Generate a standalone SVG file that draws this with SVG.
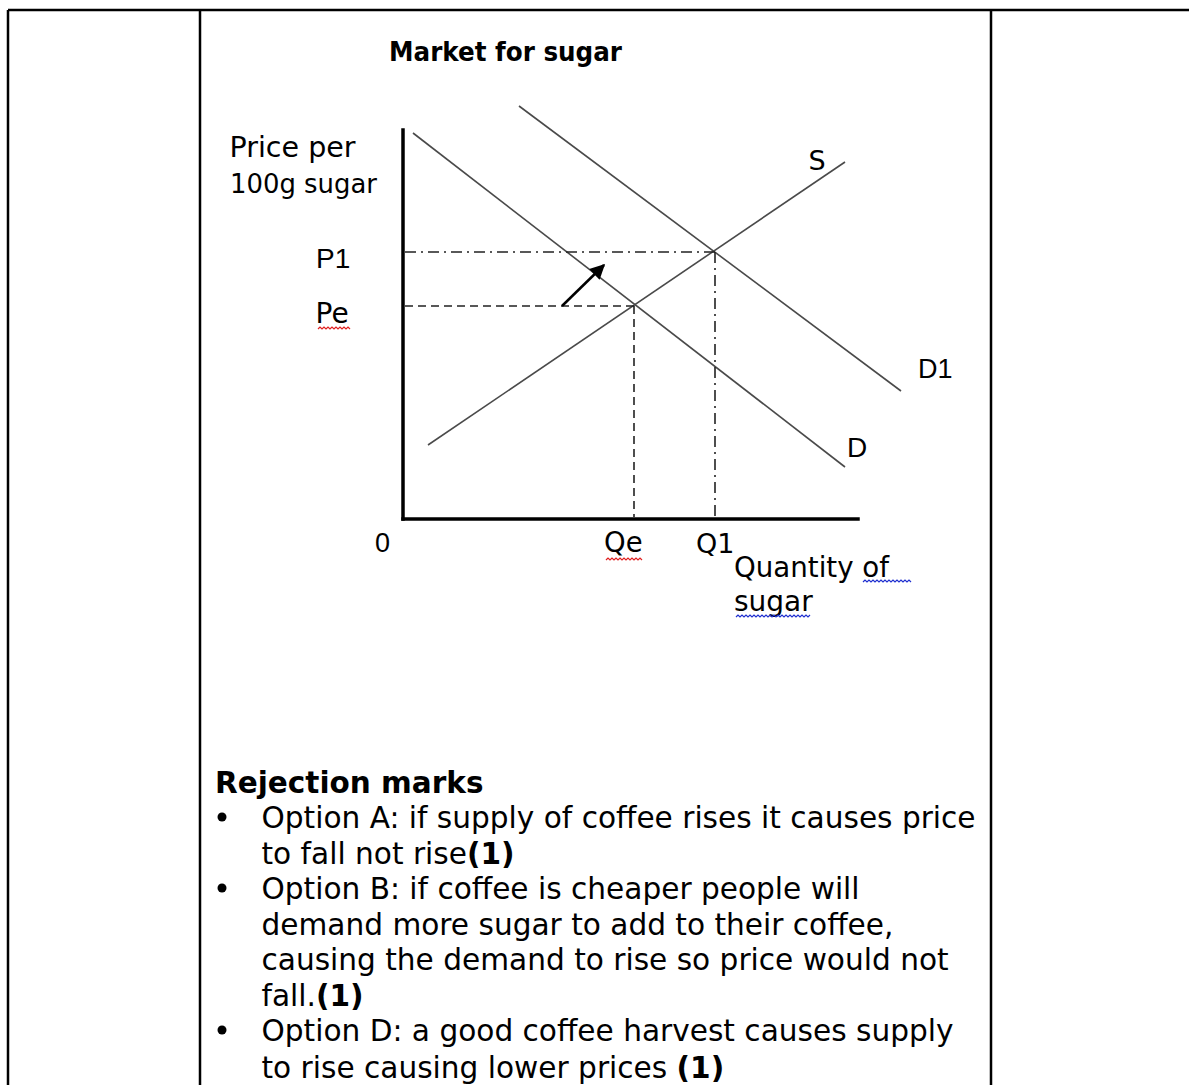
<svg xmlns="http://www.w3.org/2000/svg" width="1189" height="1085" viewBox="0 0 1189 1085">
<defs>
<style>
.border{stroke:#000;stroke-width:2.5;fill:none}
.axis{stroke:#000;stroke-width:3.5;fill:none;stroke-linecap:square}
.curve{stroke:#4a4a4a;stroke-width:1.6;fill:none}
.dash{stroke:#222;stroke-width:1.6;fill:none;stroke-dasharray:8 5}
.dashdot{stroke:#222;stroke-width:1.6;fill:none;stroke-dasharray:11 5 2 5}
.t{font-family:"DejaVu Sans",Verdana,sans-serif;fill:#000}
.a{font-family:"Liberation Sans",Arial,sans-serif;fill:#000}
.b{font-weight:bold}
.wr{stroke:#e02020;stroke-width:1.2;fill:none}
.wb{stroke:#2030d0;stroke-width:1.2;fill:none}
</style>
<marker id="ah" viewBox="0 0 10 10" refX="9" refY="5" markerWidth="6.5" markerHeight="6" markerUnits="strokeWidth" orient="auto">
<path d="M0,0 L10,5 L0,10 z" fill="#000"/>
</marker>
</defs>
<rect width="1189" height="1085" fill="#fff"/>
<g id="table">
<line class="border" x1="8" y1="10" x2="1189" y2="10"/>
<line class="border" x1="8" y1="10" x2="8" y2="1085"/>
<line class="border" x1="200" y1="10" x2="200" y2="1085"/>
<line class="border" x1="991" y1="10" x2="991" y2="1085"/>
</g>
<g id="title"><text class="t b" x="389" y="61" font-size="26" textLength="233" lengthAdjust="spacingAndGlyphs">Market for sugar</text></g>
<g id="axes">
<line class="axis" x1="403" y1="130" x2="403" y2="519"/>
<line class="axis" x1="403" y1="519" x2="858" y2="519"/>
<text class="t" x="229.5" y="157" font-size="28" textLength="126" lengthAdjust="spacingAndGlyphs">Price per</text>
<text class="t" x="230" y="193" font-size="27" textLength="147" lengthAdjust="spacingAndGlyphs">100g sugar</text>
<text class="a" x="375" y="552" font-size="27">0</text>
<text class="t" x="734" y="577" font-size="28" textLength="155" lengthAdjust="spacingAndGlyphs">Quantity of</text>
<text class="t" x="734" y="611" font-size="28">sugar</text>
<path class="wb" d="M863,582 l2,-2 l2,2 l2,-2 l2,2 l2,-2 l2,2 l2,-2 l2,2 l2,-2 l2,2 l2,-2 l2,2 l2,-2 l2,2 l2,-2 l2,2 l2,-2 l2,2 l2,-2 l2,2 l2,-2 l2,2 l2,-2 l2,2"/>
<path class="wb" d="M736,617 l2,-2 l2,2 l2,-2 l2,2 l2,-2 l2,2 l2,-2 l2,2 l2,-2 l2,2 l2,-2 l2,2 l2,-2 l2,2 l2,-2 l2,2 l2,-2 l2,2 l2,-2 l2,2 l2,-2 l2,2 l2,-2 l2,2 l2,-2 l2,2 l2,-2 l2,2 l2,-2 l2,2 l2,-2 l2,2 l2,-2 l2,2 l2,-2 l2,2 l2,-2"/>
</g>
<g id="curve-D"><line class="curve" x1="413" y1="133" x2="845" y2="467"/><text class="a" x="847" y="457" font-size="28">D</text></g>
<g id="curve-D1"><line class="curve" x1="519" y1="106" x2="901" y2="391"/><text class="a" x="918" y="378" font-size="27">D1</text></g>
<g id="curve-S"><line class="curve" x1="428" y1="445" x2="845" y2="162"/><text class="t" x="808.5" y="170" font-size="27">S</text></g>
<g id="label-P1"><text class="a" x="316" y="268" font-size="28">P1</text></g>
<g id="label-Pe"><text class="t" x="315.5" y="323" font-size="28">Pe</text>
<path class="wr" d="M318,329 l2,-2 l2,2 l2,-2 l2,2 l2,-2 l2,2 l2,-2 l2,2 l2,-2 l2,2 l2,-2 l2,2 l2,-2 l2,2 l2,-2 l2,2"/></g>
<g id="label-Qe"><text class="t" x="604" y="552" font-size="27.5">Qe</text>
<path class="wr" d="M606,560 l2,-2 l2,2 l2,-2 l2,2 l2,-2 l2,2 l2,-2 l2,2 l2,-2 l2,2 l2,-2 l2,2 l2,-2 l2,2 l2,-2 l2,2 l2,-2 l2,2"/></g>
<g id="label-Q1"><text class="t" x="696" y="553" font-size="27">Q1</text></g>
<g id="connectors">
<line class="dash" x1="405" y1="306" x2="634" y2="306"/>
<line class="dash" x1="634" y1="306" x2="634" y2="517"/>
<line class="dashdot" x1="405" y1="252" x2="715" y2="252"/>
<line class="dashdot" x1="715" y1="252" x2="715" y2="517"/>
<line x1="562" y1="306" x2="604" y2="265" stroke="#000" stroke-width="2.5" marker-end="url(#ah)"/>
</g>
<g id="rejection">
<text class="t b" x="215" y="793" font-size="29.5">Rejection marks</text>
<circle cx="222" cy="817" r="4.5" fill="#000"/>
<circle cx="222" cy="888" r="4.5" fill="#000"/>
<circle cx="222" cy="1030" r="4.5" fill="#000"/>
<g class="t" font-size="29.6">
<text x="261.5" y="828">Option A: if supply of coffee rises it causes price</text>
<text x="261.5" y="863.5">to fall not rise<tspan class="b">(1)</tspan></text>
<text x="261.5" y="899">Option B: if coffee is cheaper people will</text>
<text x="261.5" y="934.5">demand more sugar to add to their coffee,</text>
<text x="261.5" y="970">causing the demand to rise so price would not</text>
<text x="261.5" y="1005.5">fall.<tspan class="b">(1)</tspan></text>
<text x="261.5" y="1041">Option D: a good coffee harvest causes supply</text>
<text x="261.5" y="1078">to rise causing lower prices <tspan class="b">(1)</tspan></text>
</g>
</g>
</svg>
